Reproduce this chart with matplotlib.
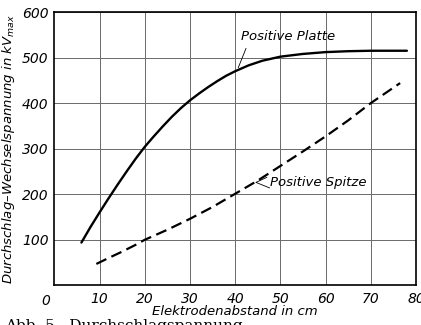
import matplotlib
matplotlib.use("Agg")
import matplotlib.pyplot as plt
from matplotlib import font_manager

# schmale Schrift, falls vorhanden
try:
    font_manager.findfont("Liberation Sans Narrow", fallback_to_default=False)
    FONT = "Liberation Sans Narrow"
except ValueError:
    FONT = "DejaVu Sans"
plt.rcParams["font.family"] = [FONT, "DejaVu Sans"]

# Daten
platte_x = [6, 8, 10, 12, 14, 16, 18, 20, 22, 24, 26, 28, 30, 32, 34, 36, 38, 40,
            43, 46, 50, 55, 60, 65, 70, 78]
platte_kv = [94, 128, 160, 191, 221, 250, 278, 304, 327, 349, 370, 389, 406, 421,
             435, 448, 460, 470, 483, 493, 502, 508, 512, 514, 515, 515]

spitze_x = [9.3, 12, 15, 18, 20, 25, 30, 35, 40, 45, 50, 55, 60, 65, 70, 76.5]
spitze_kv = [47, 60, 74, 89, 100, 122, 146, 172, 201, 230, 262, 294, 327, 362, 400, 444]

x_ticks = [10, 20, 30, 40, 50, 60, 70, 80]
y_ticks = [100, 200, 300, 400, 500, 600]

fig = plt.figure(figsize=(4.21, 3.25), dpi=100)
ax = fig.add_axes([0.129, 0.122, 0.859, 0.841])

ax.plot(platte_x, platte_kv, color="black", lw=1.7, solid_capstyle="round",
        solid_joinstyle="round")
ax.plot(spitze_x, spitze_kv, color="black", lw=1.6, dashes=(5, 2.5))

ax.set_xlim(0, 80)
ax.set_ylim(0, 600)
ax.set_xticks(x_ticks)
ax.set_yticks(y_ticks)
ax.set_xticklabels([str(t) for t in x_ticks], fontsize=10, style="italic")
ax.set_yticklabels([str(t) for t in y_ticks], fontsize=10, style="italic")
ax.tick_params(length=0, pad=4)
ax.tick_params(axis="x", pad=5)
ax.text(-0.025, -0.03, "0", transform=ax.transAxes, fontsize=10,
        style="italic", ha="center", va="top")

ax.grid(True, color="#6a6a6a", lw=0.7)
for s in ax.spines.values():
    s.set_linewidth(1.2)

# Kurvenbeschriftungen
ax.text(41.2, 546, "Positive Platte", fontsize=9.5, style="italic", ha="left", va="center")
ax.plot([42.4, 40.7], [520, 478], color="black", lw=0.6)
ax.text(47.8, 225, "Positive Spitze", fontsize=9.5, style="italic", ha="left", va="center")
ax.plot([47.0, 44.6, 47.6], [237, 226, 214], color="black", lw=0.6)

ax.set_xlabel("Elektrodenabstand in cm", fontsize=9.5, style="italic", labelpad=-1)
ax.set_ylabel("Durchschlag\u2013Wechselspannung in kV$_{max}$", fontsize=9.5,
              style="italic", labelpad=4)

fig.text(0.012, 0.018, "Abb. 5.  Durchschlagspannung", family="DejaVu Serif",
         fontsize=11, va="top", ha="left")

fig.savefig("out.png", dpi=100)
